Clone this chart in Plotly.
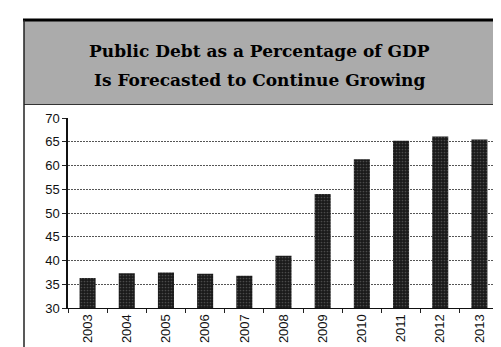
import plotly.graph_objects as go

years = ["2003", "2004", "2005", "2006", "2007", "2008", "2009", "2010", "2011", "2012", "2013"]
debt_pct = [36.3, 37.3, 37.5, 37.2, 36.8, 41.0, 54.0, 61.3, 65.2, 66.1, 65.5]
y_ticks = [30, 35, 40, 45, 50, 55, 60, 65, 70]
title_lines = ["Public Debt as a Percentage of GDP", "Is Forecasted to Continue Growing"]

W, H = 501, 347
ML, MR, MT, MB = 60, 10, 110, 47
PW, PH = W - ML - MR, H - MT - MB


def px(x):
    return (x - ML) / PW


def py(y):
    return (H - MB - y) / PH


fig = go.Figure(
    go.Bar(
        x=years,
        y=debt_pct,
        width=0.41,
        marker=dict(
            color="#1a1a1a",
            line=dict(width=0),
            pattern=dict(shape=".", fgcolor="#7a7a7a", size=3, solidity=0.25),
        ),
    )
)

shapes = [
    # gray title panel
    dict(type="rect", xref="paper", yref="paper", x0=px(16), x1=px(503), y0=py(96), y1=py(13),
         fillcolor="#ababab", line=dict(width=0), layer="below"),
    # black rule on top
    dict(type="line", xref="paper", yref="paper", x0=px(15), x1=px(503), y0=py(12), y1=py(12),
         line=dict(color="#000", width=3)),
    # thin line under panel
    dict(type="line", xref="paper", yref="paper", x0=px(16), x1=px(503), y0=py(96.5), y1=py(96.5),
         line=dict(color="#333", width=1)),
    # left border
    dict(type="line", xref="paper", yref="paper", x0=px(16), x1=px(16), y0=py(12), y1=py(347),
         line=dict(color="#222", width=1.5)),
]

title_font = dict(family="DejaVu Serif", size=17, color="#000", weight="bold")
annotations = [
    dict(text=title_lines[0], xref="paper", yref="paper", x=px(251), y=py(43), showarrow=False,
         xanchor="center", yanchor="middle", font=title_font),
    dict(text=title_lines[1], xref="paper", yref="paper", x=px(251), y=py(72), showarrow=False,
         xanchor="center", yanchor="middle", font=title_font),
]

fig.update_layout(
    width=W, height=H,
    margin=dict(l=ML, r=MR, t=MT, b=MB, pad=0),
    paper_bgcolor="#ffffff",
    plot_bgcolor="#ffffff",
    showlegend=False,
    shapes=shapes,
    annotations=annotations,
    font=dict(family="Liberation Sans", size=13, color="#111"),
)

fig.update_xaxes(
    type="category",
    tickangle=-90,
    showline=True, linecolor="#111", linewidth=1,
    ticks="outside", tickson="boundaries", ticklen=4, tickcolor="#222",
    showgrid=False,
    tickfont=dict(family="Liberation Sans", size=13, color="#111"),
)

fig.update_yaxes(
    range=[30, 70],
    tickvals=y_ticks,
    showline=True, linecolor="#111", linewidth=1.5,
    ticks="outside", ticklen=4, tickcolor="#222",
    showgrid=True, gridcolor="#555", gridwidth=1, griddash="2px,1px",
    zeroline=False,
    tickfont=dict(family="Liberation Sans", size=13, color="#111"),
)

fig.write_html("out.html")
